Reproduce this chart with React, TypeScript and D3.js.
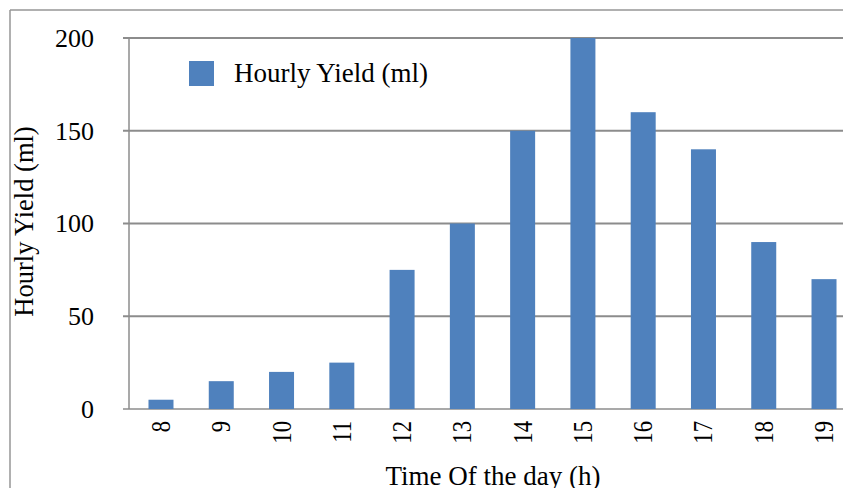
import React from "react";
import * as d3 from "d3";

const hours = ["8", "9", "10", "11", "12", "13", "14", "15", "16", "17", "18", "19"];
const yieldValues = [5, 15, 20, 25, 75, 100, 150, 200, 160, 140, 90, 70];
const yTicks = [0, 50, 100, 150, 200];
const seriesName = "Hourly Yield (ml)";
const xTitle = "Time Of the day (h)";
const yTitle = "Hourly Yield (ml)";

const W = 843;
const H = 488;
const FONT = "'Liberation Serif', 'Times New Roman', serif";
const BAR = "#4F81BD";
const GRID = "#8c8c8c";

export default function App() {
  const left = 129;
  const x = d3.scaleBand<string>().domain(hours).range([131, 854]).paddingInner(0.585).paddingOuter(0.29);
  const y = d3.scaleLinear().domain([0, 200]).range([409, 38]);
  const bw = 25;

  return (
    <svg width={W} height={H} style={{ position: "absolute", left: 0, top: 0, background: "#fff" }}>
      <rect x={0} y={0} width={W} height={H} fill="#fff" />
      {/* outer chart border */}
      <line x1={10} y1={10} x2={W} y2={10} stroke="#969696" strokeWidth={1.5} />
      <line x1={10} y1={10} x2={10} y2={H} stroke="#969696" strokeWidth={1.5} />
      {/* gridlines and y tick labels */}
      {yTicks.map((t) => (
        <g key={t}>
          <line x1={left - 6} x2={W} y1={y(t)} y2={y(t)} stroke={GRID} strokeWidth={t === 0 ? 1.5 : 2} />
          <text x={94} y={y(t)} dy="0.34em" textAnchor="end" fontFamily={FONT} fontSize={26} fill="#000">
            {t}
          </text>
        </g>
      ))}
      {/* y axis */}
      <line x1={left} x2={left} y1={y(200)} y2={y(0)} stroke={GRID} strokeWidth={1.5} />
      {/* bars */}
      {hours.map((h, i) => {
        const cx = (x(h) as number) + x.bandwidth() / 2;
        return (
          <rect key={h} x={cx - bw / 2} y={y(yieldValues[i])} width={bw} height={y(0) - y(yieldValues[i])} fill={BAR} />
        );
      })}
      {/* x tick labels */}
      {hours.map((h) => {
        const cx = (x(h) as number) + x.bandwidth() / 2;
        return (
          <text
            key={h}
            transform={`translate(${cx + 9},${421}) rotate(-90) scale(0.84,1)`}
            textAnchor="end"
            fontFamily={FONT}
            fontSize={27}
            fill="#000"
          >
            {h}
          </text>
        );
      })}
      {/* axis titles */}
      <text x={493} y={485} textAnchor="middle" fontFamily={FONT} fontSize={27} fill="#000">
        {xTitle}
      </text>
      <text transform={`translate(33,221.5) rotate(-90)`} textAnchor="middle" fontFamily={FONT} fontSize={26.5} fill="#000">
        {yTitle}
      </text>
      {/* legend */}
      <rect x={189} y={61} width={25} height={25} fill={BAR} />
      <text x={234} y={82} fontFamily={FONT} fontSize={27} fill="#000">
        {seriesName}
      </text>
    </svg>
  );
}
